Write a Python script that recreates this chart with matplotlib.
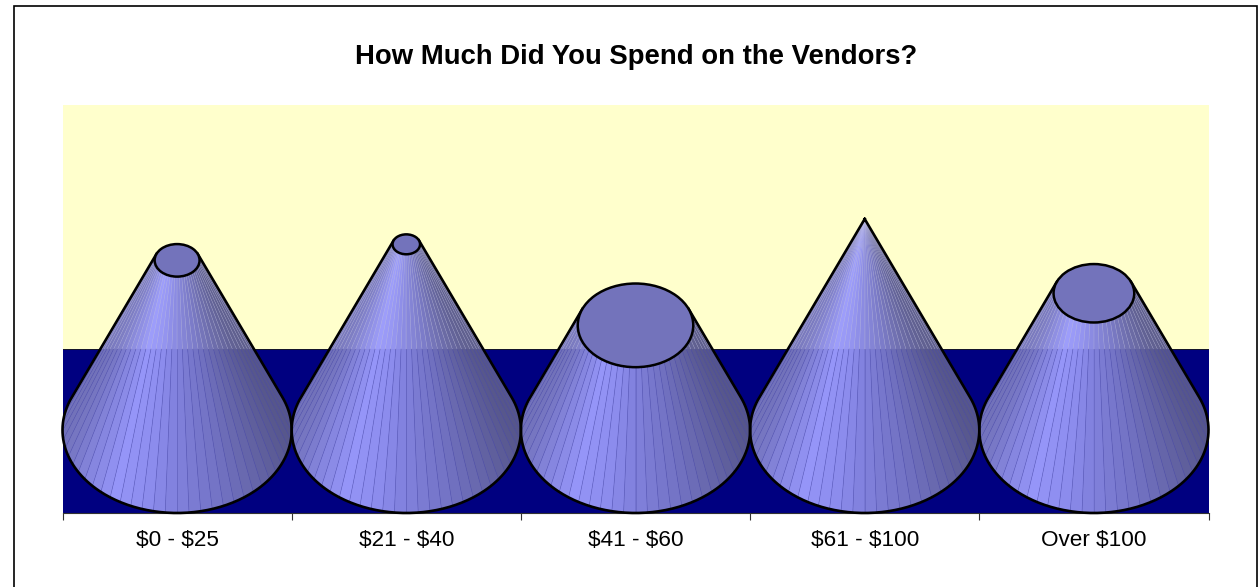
import numpy as np
import matplotlib
matplotlib.use("Agg")
import matplotlib.pyplot as plt
from matplotlib.patches import Polygon, Ellipse, Rectangle

categories = [r"\$0 - \$25", r"\$21 - \$40", r"\$41 - \$60", r"\$61 - \$100", r"Over \$100"]
values = [20.1, 22.0, 12.4, 25.0, 16.2]
title = "How Much Did You Spend on the Vendors?"
apex_value = 25.0

W, H = 1258, 587
plt.rcParams['font.family'] = ['Liberation Sans', 'DejaVu Sans']
fig = plt.figure(figsize=(W / 100, H / 100), dpi=100, facecolor='white')

AX_L, AX_R, AX_T, AX_B = 62.5, 1208.5, 105, 513
ax = fig.add_axes([AX_L / W, 1 - AX_B / H, (AX_R - AX_L) / W, (AX_B - AX_T) / H])

PX_PER_UNIT = 8.44
RY = 83 / PX_PER_UNIT          # base ellipse half height in value units
ax.set_xlim(0, len(categories))
ax.set_ylim(-RY, (430 - AX_T) / PX_PER_UNIT)
FLOOR = (430 - 349) / PX_PER_UNIT
ax.set_facecolor('#FFFFCC')
ax.axhspan(-RY, FLOOR, color='#000080', lw=0, zorder=1)
ax.plot([0, len(categories)], [FLOOR, FLOOR], color='#1a1a1a', lw=0.6, zorder=1.1)

# shading stops versus cos(theta)
stops_u = [-1.0, -0.8, -0.55, -0.3, 0.0, 0.4, 0.75, 1.0]
stops_c = np.array([[118, 118, 188], [138, 138, 226], [156, 156, 255], [148, 148, 246],
                    [134, 134, 224], [118, 118, 198], [102, 102, 164], [88, 88, 136]]) / 255


def shade(u):
    return [np.interp(u, stops_u, stops_c[:, k]) for k in range(3)]


STEP = np.radians(6.0)
for i, v in enumerate(values):
    cx = i + 0.5
    R = 0.5
    f = 1 - v / apex_value
    r, ry = R * f, RY * f
    tan_t = np.arcsin(min(1, RY / apex_value))
    t0, t1 = np.pi - tan_t, 2 * np.pi + tan_t
    tt = np.linspace(t0, t1, 200)
    ox = np.r_[cx + r * np.cos(t0), cx + R * np.cos(tt), cx + r * np.cos(t1)]
    oy = np.r_[v + ry * np.sin(t0), RY * np.sin(tt), v + ry * np.sin(t1)]
    ax.add_patch(Polygon(np.c_[ox, oy], closed=True, fc=(125 / 255, 125 / 255, 205 / 255),
                         ec='none', lw=0, alpha=0.6, zorder=1.5))
    n = int(round((t1 - t0) / STEP))
    edges = np.linspace(t0, t1, n + 1)
    for a, b in zip(edges[:-1], edges[1:]):
        m = (a + b) / 2
        ts = np.array([a, m, b])
        base = np.c_[cx + R * np.cos(ts), RY * np.sin(ts)]
        top = np.c_[cx + r * np.cos(ts), v + ry * np.sin(ts)]
        ax.add_patch(Polygon(np.r_[base, top[::-1]], closed=True, fc=shade(np.cos(m)),
                             ec='none', lw=0, alpha=0.92, zorder=2))
    # thin seams between facets: light over the wall, dark over the floor
    for a in edges[1:-1]:
        xb, yb = cx + R * np.cos(a), RY * np.sin(a)
        xt, yt = cx + r * np.cos(a), v + ry * np.sin(a)
        s = np.clip((FLOOR - yb) / (yt - yb), 0, 1)
        xm = xb + s * (xt - xb)
        ym = yb + s * (yt - yb)
        ax.plot([xb, xm], [yb, ym], color='#4A4AA8', lw=0.45, alpha=0.55, zorder=2.2)
        ax.plot([xm, xt], [ym, yt], color='#C8C8E8', lw=0.35, alpha=0.45, zorder=2.2)
    # outline
    ax.plot(ox, oy, color='black', lw=1.9, zorder=3, solid_joinstyle='round', clip_on=False)
    if f > 0:
        ax.add_patch(Ellipse((cx, v), 2 * r, 2 * ry, fc='#7373BB', ec='black', lw=1.8, zorder=4))

for s in ['top', 'left', 'right']:
    ax.spines[s].set_visible(False)
ax.spines['bottom'].set_color('#333333')
ax.spines['bottom'].set_linewidth(0.8)
ax.set_yticks([])
ax.set_xticks(np.arange(len(categories) + 1))
ax.set_xticklabels([])
ax.tick_params(axis='x', which='major', length=5, width=0.8, color='#333333')
ax.set_xticks(np.arange(len(categories)) + 0.5, minor=True)
ax.set_xticklabels(categories, minor=True, fontsize=16.2, color='black')
ax.tick_params(axis='x', which='minor', length=0, pad=12)

fig.text(636 / W, 1 - 56.5 / H, title, ha='center', va='center', fontsize=16.5 * 560 / 466, fontweight='bold')
fig.add_artist(Rectangle((13.5 / W, -0.02), (1257 - 13.5) / W, 1.02 - 6 / H, transform=fig.transFigure,
                         fc='none', ec='black', lw=1.2))
fig.savefig('out.png', dpi=100, facecolor='white')
